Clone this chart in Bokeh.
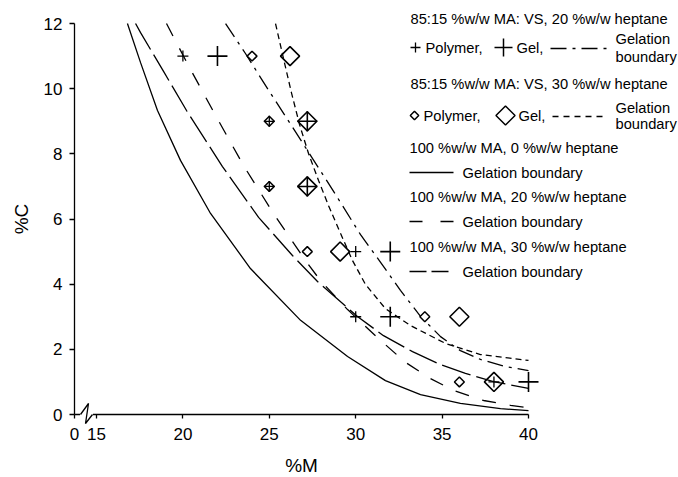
import numpy as np
from bokeh.plotting import figure
from bokeh.models import Range1d, FixedTicker, CustomJSTickFormatter
from bokeh.core.properties import value
from bokeh.embed import file_html
from bokeh.resources import INLINE

# ---------------- data ----------------
x_ticks = [15, 20, 25, 30, 35, 40]
y_ticks = [0, 2, 4, 6, 8, 10, 12]

# 85:15 MA:VS, 20 % heptane (plus markers)
a_poly_x = [20, 25, 25, 30, 30, 38]
a_poly_y = [11, 9, 7, 5, 3, 1]
a_gel_x = [22, 27.2, 27.2, 32, 32, 40]
a_gel_y = [11, 9, 7, 5, 3, 1]
# 85:15 MA:VS, 30 % heptane (diamond markers)
b_poly_x = [24, 25, 25, 27.2, 34, 36]
b_poly_y = [11, 9, 7, 5, 3, 1]
b_gel_x = [26.2, 27.2, 27.2, 29.1, 36, 38]
b_gel_y = [11, 9, 7, 5, 3, 1]

# gelation boundaries
a_bound_x = [22.47, 23.62, 24.78, 25.94, 27.09, 28.25, 29.12, 30.28, 31.44, 32.59, 33.75, 34.91, 36.06, 37.22, 38.67, 40.0]
a_bound_y = [12.00, 11.08, 10.10, 9.15, 8.20, 7.24, 6.51, 5.52, 4.67, 3.81, 3.01, 2.39, 1.96, 1.69, 1.47, 1.35]
b_bound_x = [25.36, 25.82, 26.28, 26.75, 27.27, 27.85, 28.43, 29.12, 29.81, 30.57, 31.72, 33.17, 35.20, 37.22, 40.0]
b_bound_y = [12.00, 10.93, 9.88, 8.90, 8.01, 7.18, 6.41, 5.56, 4.73, 3.99, 3.25, 2.73, 2.18, 1.84, 1.66]
h0_x = [16.79, 17.55, 18.53, 19.86, 21.60, 23.91, 26.81, 29.53, 31.72, 33.75, 36.06, 38.38, 40.0]
h0_y = [12.00, 10.80, 9.33, 7.80, 6.17, 4.48, 2.89, 1.78, 1.04, 0.61, 0.34, 0.18, 0.12]
h20_x = [19.05, 20.32, 21.89, 23.51, 25.24, 27.09, 27.96, 29.53, 31.32, 32.88, 34.33, 35.66, 37.40, 38.96, 40.0]
h20_y = [12.00, 10.71, 9.18, 7.64, 6.17, 4.73, 4.11, 3.22, 2.33, 1.60, 1.10, 0.74, 0.43, 0.28, 0.21]
h30_x = [17.26, 17.55, 18.88, 20.21, 22.29, 24.38, 26.34, 27.79, 30.10, 31.61, 33.29, 34.91, 36.35, 37.97, 40.0]
h30_y = [12.00, 11.72, 10.53, 9.33, 7.61, 6.05, 4.88, 4.08, 3.01, 2.42, 1.93, 1.53, 1.26, 1.01, 0.80]

legend_titles = ["85:15 %w/w MA: VS, 20 %w/w heptane",
                 "85:15 %w/w MA: VS, 30 %w/w heptane",
                 "100 %w/w MA, 0 %w/w heptane",
                 "100 %w/w MA, 20 %w/w heptane",
                 "100 %w/w MA, 30 %w/w heptane"]

# ---------------- layout ----------------
W, H = 678, 477
PX15, PXPU = 96.0, 17.28      # pixel of x=15, pixels per x unit
PY0, PYPU = 414.0, 32.58      # pixel of y=0, pixels per y unit


def fx(px):
    return 15 + (px - PX15) / PXPU


def fy(py):
    return (PY0 - py) / PYPU


X_ZERO = fx(74)
FONT = "Liberation Sans"

p = figure(width=W, height=H, output_backend="svg", toolbar_location=None,
           x_range=Range1d(fx(0), fx(W)), y_range=Range1d(fy(H), fy(0)),
           min_border=0)
p.outline_line_color = None
p.grid.visible = False
p.background_fill_color = "white"
p.border_fill_color = "white"

xa = p.xaxis[0]
xa.fixed_location = 0
xa.bounds = (X_ZERO, 40)
xa.ticker = FixedTicker(ticks=[X_ZERO] + x_ticks)
xa.formatter = CustomJSTickFormatter(code="return tick < 14.5 ? '0' : tick.toFixed(0)")
xa.axis_label = "%M"

ya = p.yaxis[0]
ya.fixed_location = X_ZERO
ya.bounds = (0, 12)
ya.ticker = FixedTicker(ticks=y_ticks)
ya.axis_label = "%C"

for ax, tout in ((xa, 4), (ya, 5)):
    ax.minor_tick_line_color = None
    ax.major_tick_out = tout
    ax.major_tick_in = 0
    ax.axis_line_color = "black"
    ax.axis_line_width = 1.3
    ax.major_tick_line_color = "black"
    ax.major_tick_line_width = 1.3
    ax.major_label_text_font = FONT
    ax.major_label_text_font_size = "17px"
    ax.major_label_text_color = "black"
    ax.axis_label_text_font = FONT
    ax.axis_label_text_font_size = "19px"
    ax.axis_label_text_font_style = "normal"
    ax.axis_label_text_color = "black"
xa.major_label_standoff = 9
xa.axis_label_standoff = 12
ya.major_label_standoff = 7
ya.axis_label_standoff = 9

# axis break
brk = p.line([fx(79.5), fx(92.5)], [0, 0], line_color="white", line_width=4)
brk.level = "overlay"
zz = p.line([fx(80), fx(88), fx(85), fx(92)], [fy(414), fy(403), fy(423), fy(414)],
            line_color="black", line_width=1.3)
zz.level = "overlay"

LW = 1.3
# curves
p.line(h0_x, h0_y, line_color="black", line_width=LW)
p.line(h20_x, h20_y, line_color="black", line_width=LW, line_dash="14 14")
p.line(h30_x, h30_y, line_color="black", line_width=LW, line_dash="30 6")
p.line(a_bound_x, a_bound_y, line_color="black", line_width=LW, line_dash="16 6 3 6")
p.line(b_bound_x, b_bound_y, line_color="black", line_width=LW, line_dash="6 4")

# markers
p.scatter(b_poly_x, b_poly_y, marker="square", angle=np.pi / 4, size=7,
          fill_color="white", line_color="black", line_width=1.5)
p.scatter(b_gel_x, b_gel_y, marker="square", angle=np.pi / 4, size=13.5,
          fill_color=None, line_color="black", line_width=1.6)
p.scatter(a_poly_x, a_poly_y, marker="cross", size=11, line_color="black", line_width=1.3)
p.scatter(a_gel_x, a_gel_y, marker="cross", size=20, line_color="black", line_width=1.6)

# ---------------- legend (drawn) ----------------
LFS = "14.7px"


def txt(pxs, pys, texts):
    p.text(x=[fx(v) for v in pxs], y=[fy(v) for v in pys], text=texts,
           text_font=value(FONT), text_font_size=value(LFS), text_color="black",
           text_baseline="middle", text_align="left")


txt([410, 410, 409, 409, 409], [18, 83, 147, 196, 246], legend_titles)
txt([425, 516, 615, 615], [47, 47, 38, 56], ["Polymer,", "Gel,", "Gelation", "boundary"])
txt([423, 518, 615, 615], [115, 115, 107, 123], ["Polymer,", "Gel,", "Gelation", "boundary"])
txt([462, 462, 462], [172, 221, 271], ["Gelation boundary"] * 3)

p.scatter([fx(415)], [fy(47)], marker="cross", size=10, line_color="black", line_width=1.3)
p.scatter([fx(503)], [fy(47)], marker="cross", size=18, line_color="black", line_width=1.5)
p.scatter([fx(414)], [fy(115)], marker="square", angle=np.pi / 4, size=6,
          fill_color=None, line_color="black", line_width=1.5)
p.scatter([fx(505)], [fy(115)], marker="square", angle=np.pi / 4, size=13.5,
          fill_color=None, line_color="black", line_width=1.5)
p.line([fx(550), fx(612)], [fy(48), fy(48)], line_color="black", line_width=LW, line_dash="16 6 3 6")
p.line([fx(552), fx(607)], [fy(116), fy(116)], line_color="black", line_width=LW, line_dash="6 5")
p.line([fx(409), fx(453)], [fy(172), fy(172)], line_color="black", line_width=LW)
p.line([fx(409), fx(453)], [fy(221), fy(221)], line_color="black", line_width=LW, line_dash="13 18")
p.line([fx(409), fx(453)], [fy(271), fy(271)], line_color="black", line_width=LW, line_dash="17 5")

open("out.html", "w").write(file_html(p, INLINE))
